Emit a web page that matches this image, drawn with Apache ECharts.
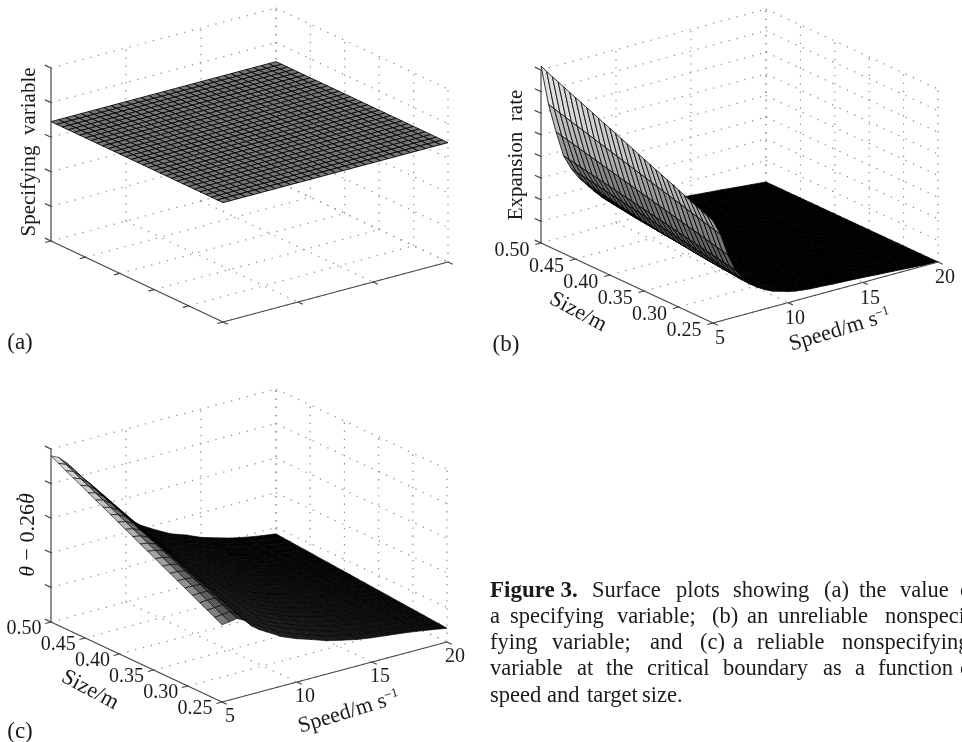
<!DOCTYPE html>
<html><head><meta charset="utf-8">
<style>html,body{margin:0;padding:0;background:#fff}#c{width:962px;height:742px}</style>
<script src="https://cdn.jsdelivr.net/npm/echarts@6/dist/echarts.min.js"></script>
</head><body><div id="c"></div>
<script>
// ---------- data (z in thousandths of the vertical axis) ----------
const speedTicks = [5, 10, 15, 20];
const sizeTicks = [0.5, 0.45, 0.4, 0.35, 0.3, 0.25];
const sizeTickLabels = ['0.50', '0.45', '0.40', '0.35', '0.30', '0.25'];
const zTicksA = [0, 200, 400, 600, 800, 1000];
const zTicksB = [0, 125, 250, 375, 500, 625, 750, 875, 1000];
const zTicksC = [0, 200, 400, 600, 800, 1000];

const speedsA = [5,5.5,6,6.5,7,7.5,8,8.5,9,9.5,10,10.5,11,11.5,12,12.5,13,13.5,14,14.5,15,15.5,16,16.5,17,17.5,18,18.5,19,19.5,20];
const sizesA = [0.5,0.4917,0.4833,0.475,0.4667,0.4583,0.45,0.4417,0.4333,0.425,0.4167,0.4083,0.4,0.3917,0.3833,0.375,0.3667,0.3583,0.35,0.3417,0.3333,0.325,0.3167,0.3083,0.3,0.2917,0.2833,0.275,0.2667,0.2583,0.25];
const specifyingLevel = 690;

const speedsB = [5,5.5,6,6.5,7,7.5,8,8.5,9,9.5,10,10.5,11,11.5,12,13,14,15,16,17,18,19,20];
const sizesB = sizesA;
const expansionRate = [
[1023,1006,991,977,963,948,934,920,905,891,877,862,848,834,819,805,791,776,762,748,733,719,705,691,676,662,648,633,619,605,590],
[790,780,771,761,751,742,732,722,713,703,693,684,674,664,655,645,635,626,616,606,597,587,577,568,558,548,539,529,519,510,500],
[620,612,603,595,587,578,570,562,553,545,537,528,520,512,503,495,487,478,470,462,453,445,437,428,420,412,403,395,387,378,370],
[470,463,457,450,443,437,430,423,417,410,403,397,390,383,377,370,363,357,350,343,337,330,323,317,310,303,297,290,283,277,270],
[385,378,372,366,360,354,348,342,336,330,324,318,312,306,300,294,288,282,276,270,264,258,252,246,240,234,228,222,216,213,210],
[320,312,305,298,290,283,277,270,264,257,251,245,239,234,228,223,218,213,208,204,199,195,191,187,184,180,177,174,170,168,165],
[270,263,257,250,244,238,232,226,221,215,210,205,200,195,190,186,181,177,173,169,165,161,158,154,151,148,145,142,140,137,135],
[220,215,209,204,199,194,189,184,180,175,171,167,163,159,155,151,148,144,141,138,134,131,129,126,123,121,118,116,114,112,110],
[175,169,164,159,154,149,144,140,136,132,128,124,121,117,114,111,109,106,104,101,99,98,96,95,93,92,92,91,90,90,90],
[140,136,132,128,125,121,118,114,111,108,106,103,100,98,96,94,92,90,88,86,85,84,82,81,80,80,79,79,78,78,78],
[110,107,104,101,99,96,94,91,89,87,85,83,81,79,78,76,75,73,72,71,70,69,68,67,67,66,66,66,65,65,65],
[85,83,81,79,78,76,74,73,71,70,68,67,66,65,64,63,62,61,60,59,58,58,57,57,56,56,56,55,55,55,55],
[65,64,63,62,61,60,60,59,58,57,57,56,55,55,54,54,53,53,52,52,52,51,51,51,51,50,50,50,50,50,50],
[55,55,54,54,53,53,52,52,51,51,50,50,49,49,48,48,48,47,47,47,46,46,46,45,45,45,45,45,45,45,45],
[50,50,50,50,49,49,49,49,48,48,48,48,47,47,47,47,46,46,46,46,45,45,45,45,44,44,44,44,43,43,43],
[48,48,48,47,47,47,47,46,46,46,45,45,45,44,44,44,43,43,42,42,41,41,40,40,39,39,38,38,38,37,37],
[45,45,44,44,44,43,43,43,42,42,42,41,41,40,40,39,39,38,38,37,37,36,36,35,35,34,34,34,33,33,33],
[40,40,39,39,39,38,38,37,37,37,36,36,35,35,34,34,33,33,32,32,31,31,30,30,30,29,29,29,28,28,28],
[32,32,32,31,31,31,30,30,30,29,29,29,28,28,28,27,27,27,26,26,26,25,25,24,24,24,23,23,23,22,22],
[25,25,25,24,24,24,24,23,23,23,23,22,22,22,22,21,21,21,20,20,20,20,19,19,19,18,18,18,18,17,17],
[16,16,16,16,16,16,15,15,15,15,15,15,14,14,14,14,14,13,13,13,13,13,13,12,12,12,12,12,11,11,11],
[8,8,8,8,8,8,8,8,7,7,7,7,7,7,7,7,7,7,6,6,6,6,6,6,6,6,6,5,5,5,5],
[0,0,0,0,0,0,0,0,0,0,0,0,0,0,0,0,0,0,0,0,0,0,0,0,0,0,0,0,0,0,0]
];

const speedsC = [5,5.5,6,6.5,7,7.5,8,9,10,11,12,13,14,15,16,17,18,19,20];
const sizesC = [0.5,0.4891,0.4783,0.4674,0.4565,0.4457,0.4348,0.4239,0.413,0.4022,0.3913,0.3804,0.3696,0.3587,0.3478,0.337,0.3261,0.3152,0.3043,0.2935,0.2826,0.2717,0.2609,0.25];
const reliableVariable = [
[960,938,915,893,871,848,826,804,782,759,737,715,692,670,648,625,603,581,559,536,514,492,469,447],
[940,919,898,876,855,834,813,791,770,749,728,707,685,664,643,622,601,579,558,537,516,494,473,452],
[900,881,862,843,823,804,785,766,747,728,709,690,670,651,632,613,594,575,556,537,517,498,479,460],
[840,822,805,787,770,752,735,717,700,682,665,647,630,612,595,577,560,542,525,507,490,472,455,437],
[795,777,760,742,725,707,690,672,655,637,620,602,585,567,550,532,515,497,480,462,445,427,410,392],
[750,733,716,699,682,665,648,631,614,597,580,563,546,529,512,495,478,461,444,427,410,393,377,360],
[675,660,645,631,616,601,586,571,557,542,527,512,497,483,468,453,438,424,409,394,379,364,350,335],
[580,567,554,542,529,516,503,490,477,465,452,439,426,413,400,388,375,362,349,336,323,311,298,285],
[490,480,469,459,448,438,427,417,406,396,386,375,365,354,344,333,323,312,302,292,281,271,260,250],
[420,411,403,394,386,377,368,360,351,343,334,325,317,308,300,291,282,274,265,257,248,239,231,222],
[370,362,355,347,339,331,324,316,308,300,293,285,277,269,262,254,246,238,231,223,215,207,200,192],
[325,318,312,305,298,292,285,278,272,265,258,252,245,238,232,225,218,212,205,198,192,185,179,172],
[295,289,283,276,270,264,258,252,246,239,233,227,221,215,209,202,196,190,184,178,172,165,159,153],
[258,253,248,243,237,232,227,222,217,212,207,201,196,191,186,181,176,171,166,160,155,150,145,140],
[232,228,223,219,214,210,205,201,197,192,188,183,179,174,170,166,161,157,152,148,143,139,134,130],
[208,204,200,197,193,189,185,181,177,174,170,166,162,158,154,151,147,143,139,135,131,128,124,120],
[190,186,183,179,176,172,169,165,161,158,154,151,147,143,140,136,133,129,126,122,118,115,111,108],
[175,171,168,164,161,157,154,150,147,143,140,136,133,129,126,122,119,115,112,108,105,101,98,94],
[163,159,156,152,149,145,141,138,134,131,127,123,120,116,113,109,105,102,98,95,91,87,84,80]
];

// ---------- layout & styling ----------
const SERIF = '"Liberation Serif","DejaVu Serif",serif';
const grayStopsB = [[0,0],[60,0],[100,.05],[200,.22],[300,.34],[450,.48],[600,.68],[800,.82],[1000,.95]];
function stops(tbl, z){
  for (let k = 1; k < tbl.length; k++) if (z <= tbl[k][0]) {
    const a = tbl[k-1], b = tbl[k];
    return a[1] + (b[1]-a[1]) * (z-a[0]) / (b[0]-a[0]);
  }
  return tbl[tbl.length-1][1];
}
const grayHex = g => { const v = Math.round(255*Math.max(0,Math.min(1,g))); return 'rgb('+v+','+v+','+v+')'; };

const panels = [
 { L:[51,241], sx:172, sy:81, ux:225, uy:60, h:173, speeds:speedsA, sizes:sizesA, zAt:()=>specifyingLevel, zTicks:zTicksA,
   shade:()=>.47, edge:'#000', edgeW:.85, labels:false },
 { L:[541,243], sx:172, sy:80, ux:225, uy:61, h:173, speeds:speedsB, sizes:sizesB, zAt:(i,j)=>expansionRate[i][j], zTicks:zTicksB,
   shade:(i,j,z)=>stops(grayStopsB,z), edge:'#000', edgeW:.8, labels:true, sizeOff:[-29,8], speedOff:[7,16] },
 { L:[51,622], sx:171, sy:80, ux:225, uy:60, h:173, speeds:speedsC, sizes:sizesC, zAt:(i,j)=>reliableVariable[i][j], zTicks:zTicksC,
   shade:(i,j)=>{ const s=j/23;
     if(i===0) return .86-.4*s; if(i===1) return .46-.12*s; if(i===2) return .22-.04*s;
     return (.05+.14*s)*(1-(i/18)*.8); },
   edge:'#000', edgeW:.6, labels:true, sizeOff:[-27,7], speedOff:[8,15] }
];

function project(p, speed, size, z){
  const u = (speed-5)/15, s = (0.5-size)/0.25;
  return [p.ux*u + p.sx*s, p.uy*u - p.sy*s + p.h*z/1000];
}

const series = [], grids = [], xAxes = [], yAxes = [];
panels.forEach((p, k) => {
  const top = p.L[1] - (p.uy + p.h);
  grids.push({ left:p.L[0], top:top, width:p.ux+p.sx, height:p.uy+p.h+p.sy });
  xAxes.push({ gridIndex:k, type:'value', min:0, max:p.ux+p.sx, show:false });
  yAxes.push({ gridIndex:k, type:'value', min:-p.sy, max:p.uy+p.h, show:false });
  const base = { type:'custom', coordinateSystem:'cartesian2d', xAxisIndex:k, yAxisIndex:k, silent:true, clip:false, animation:false };
  const segItem = (p1, p2) => p1.concat(p2);
  const zMax = 1000;

  // dotted grid on the two back walls and the floor
  const dots = [];
  p.zTicks.forEach(z => {
    dots.push(segItem([5,.5,z],[20,.5,z]));
    dots.push(segItem([20,.5,z],[20,.25,z]));
  });
  speedTicks.forEach(v => {
    if (v !== 5) dots.push(segItem([v,.5,0],[v,.25,0]));
    if (v !== 5) dots.push(segItem([v,.5,0],[v,.5,zMax]));
  });
  sizeTicks.forEach(v => {
    if (v !== .5 ) dots.push(segItem([5,v,0],[20,v,0]));
    dots.push(segItem([20,v,0],[20,v,zMax]));
  });
  const line = (style) => (params, api) => {
    const a = api.coord(project(p, api.value(0), api.value(1), api.value(2)));
    const b = api.coord(project(p, api.value(3), api.value(4), api.value(5)));
    return { type:'line', shape:{x1:a[0],y1:a[1],x2:b[0],y2:b[1]}, style:style };
  };
  series.push(Object.assign({}, base, { z:1, data:dots, dimensions:['a','b','c','d','e','f'], encode:{x:0,y:1},
    renderItem: line({ stroke:'#8c8c8c', lineWidth:1.2, lineDash:[1.3,6.8], fill:null }) }));

  // surface cells, far to near
  const cells = [];
  for (let i = p.speeds.length-2; i >= 0; i--)
    for (let j = 0; j < p.sizes.length-1; j++) cells.push([i,j]);
  series.push(Object.assign({}, base, { z:2, data:cells, encode:{x:0,y:1},
    renderItem:(params, api) => {
      const i = api.value(0), j = api.value(1);
      const c = [[i,j],[i+1,j],[i+1,j+1],[i,j+1]];
      let sum = 0;
      const pts = c.map(q => { const z = p.zAt(q[0],q[1]); sum += z; return api.coord(project(p, p.speeds[q[0]], p.sizes[q[1]], z)); });
      return { type:'polygon', shape:{points:pts}, style:{ fill:grayHex(p.shade(i,j,sum/4)), stroke:p.edge, lineWidth:p.edgeW } };
    } }));

  // solid axes and tick marks
  const ax = [ segItem([5,.5,0],[5,.25,0]), segItem([5,.25,0],[20,.25,0]), segItem([5,.5,0],[5,.5,zMax]) ];
  p.zTicks.forEach(z => ax.push(segItem([5,.5,z],[5,.509,z])));
  sizeTicks.forEach(v => ax.push(segItem([5,v,0],[4.62,v,0])));
  speedTicks.forEach(v => ax.push(segItem([v,.25,0],[v,.243,0])));
  series.push(Object.assign({}, base, { z:3, data:ax, dimensions:['a','b','c','d','e','f'], encode:{x:0,y:1},
    renderItem: line({ stroke:'#444', lineWidth:1.2, fill:null }) }));

  // tick labels
  if (p.labels) {
    const items = [];
    sizeTicks.forEach((v,n) => items.push([5,v,0,p.sizeOff[0],p.sizeOff[1],n,0]));
    speedTicks.forEach((v,n) => items.push([v,.25,0,p.speedOff[0],p.speedOff[1],n,1]));
    series.push(Object.assign({}, base, { z:4, data:items, dimensions:['a','b','c','d','e','f','g'], encode:{x:0,y:1},
      renderItem:(params, api) => {
        const a = api.coord(project(p, api.value(0), api.value(1), api.value(2)));
        const text = api.value(6) ? String(speedTicks[api.value(5)]) : sizeTickLabels[api.value(5)];
        return { type:'text', x:a[0]+api.value(3), y:a[1]+api.value(4),
          style:{ text:text, fontSize:20, fontFamily:SERIF, fill:'#1c1c1c', align:'center', verticalAlign:'middle' } };
      } }));
  }
});

// ---------- annotations ----------
const deg = d => d*Math.PI/180;
const T = (text, x, y, size, rot, extra) => ({ type:'text', x:x, y:y, rotation:rot?deg(rot):0, silent:true, z:10,
  style:Object.assign({ text:text, fontSize:size, fontFamily:SERIF, fill:'#1a1a1a', align:'center', verticalAlign:'middle' }, extra||{}) });
const speedTitle = (x,y) => T('{a|Speed/m s}{b|\u22121}', x, y, 22, 17, { rich:{ a:{fontSize:22,fontFamily:SERIF,fill:'#1a1a1a'}, b:{fontSize:13,fontFamily:SERIF,fill:'#1a1a1a',verticalAlign:'top'} } });
const thetaTitle = '{i|\u03b8}\u00a0\u2212\u00a00.26{i|\u03b8}';
const captionLines = [
 [591, [['Surface',592],['plots',676],['showing',733],['(a)',824],['the',859],['value',900],['of',960]]],
 [617, [['a',490],['specifying',510],['variable;',617],['(b)',712],['an',747],['unreliable',778],['nonspeci-',885]]],
 [643, [['fying',490],['variable;',552],['and',650],['(c)',700],['a',733],['reliable',757],['nonspecifying',842]]],
 [669, [['variable',490],['at',577],['the',606],['critical',647],['boundary',723],['as',823],['a',855],['function',878],['of',960]]],
 [696, [['speed',490],['and',547],['target',587],['size.',642]]]
];
const graphics = [
  T('(a)', 20, 343, 23), T('(b)', 506, 345, 23), T('(c)', 20, 732, 23),
  T('Specifying  variable', 29, 152, 21, 90),
  T('Expansion  rate', 516, 155, 21, 90),
  T(thetaTitle, 28, 535, 22, 90, { rich:{ i:{fontStyle:'italic',fontSize:22,fontFamily:SERIF,fill:'#1a1a1a'} } }),
  { type:'circle', silent:true, z:10, shape:{cx:17.5,cy:499,r:1.2}, style:{fill:'#1a1a1a'} },
  T('Size/m', 578, 312, 22, -28), T('Size/m', 90, 690, 22, -28),
  speedTitle(840, 330), speedTitle(349, 712),
  T('Figure 3.', 490, 591, 23, 0, { align:'left', fontWeight:'bold' })
];
captionLines.forEach(l => l[1].forEach(w => graphics.push(T(w[0], w[1], l[0], 22.5, 0, { align:'left' }))));

const chart = echarts.init(document.getElementById('c'), null, { renderer:'canvas', width:962, height:742 });
chart.setOption({ animation:false, backgroundColor:'#fff', tooltip:{show:false}, grid:grids, xAxis:xAxes, yAxis:yAxes, series:series, graphic:{elements:graphics} });
</script></body></html>
